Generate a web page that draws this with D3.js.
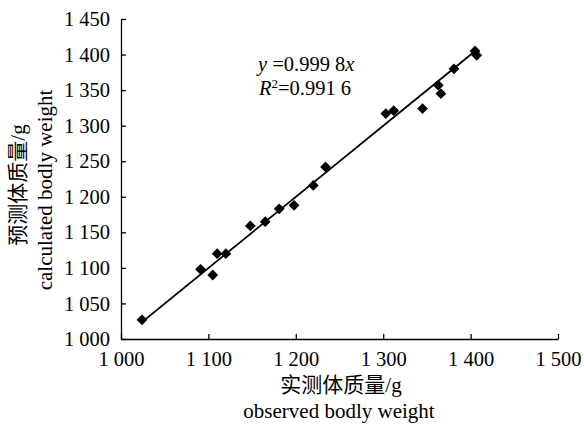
<!DOCTYPE html>
<html>
<head>
<meta charset="utf-8">
<script src="https://cdn.jsdelivr.net/npm/d3@7"></script>
<style>
  body { margin: 0; background: #fff; }
  text { font-family: "Liberation Serif", "Times New Roman", serif; fill: #000; }
  .cn { font-family: "Noto Sans CJK SC", sans-serif; }
</style>
</head>
<body>
<svg id="chart" width="584" height="425"></svg>
<script>
// observed vs predicted body weight (g)
const observed  = [1024, 1091, 1105, 1110, 1120, 1148, 1165, 1181, 1198, 1220, 1234, 1303, 1312, 1345, 1363, 1366, 1381, 1405, 1407];
const predicted = [1027, 1098, 1090, 1120, 1120, 1159, 1165, 1183, 1188, 1216, 1242, 1317, 1321, 1324, 1357, 1345, 1380, 1405, 1399];
const xTicks = [1000, 1100, 1200, 1300, 1400, 1500];
const yTicks = [1000, 1050, 1100, 1150, 1200, 1250, 1300, 1350, 1400, 1450];
const slope = 0.9998;

const svg = d3.select("#chart");
let margin = { top: 19, left: 121, right: 26, bottom: 86 };
let width = 584, height = 425;
let bodyWidth = width - margin.left - margin.right;
let bodyHeight = height - margin.top - margin.bottom;

let xScale = d3.scaleLinear().domain([1000, 1500]).range([0, bodyWidth]);
let yScale = d3.scaleLinear().domain([1000, 1450]).range([bodyHeight, 0]);

let fmt = d => d3.format(",")(d).replace(",", " ");

let body = svg.append("g")
    .attr("transform", `translate(${margin.left},${margin.top})`);

// axes, ticks point inward
let axisX = d3.axisBottom(xScale).tickValues(xTicks).tickFormat(fmt)
    .tickSizeInner(-5).tickSizeOuter(0).tickPadding(12);
let gx = body.append("g")
    .attr("transform", `translate(0,${bodyHeight})`)
    .call(axisX);

let axisY = d3.axisLeft(yScale).tickValues(yTicks).tickFormat(fmt)
    .tickSizeInner(-5).tickSizeOuter(0).tickPadding(11);
let gy = body.append("g").call(axisY);

[gx, gy].forEach(g => {
    g.selectAll("path, line").attr("stroke", "#000").attr("stroke-width", 1.3);
    g.selectAll("text").style("font-family", "'Liberation Serif', serif")
        .style("font-size", "20.5px").attr("fill", "#000");
});
gx.selectAll("text").attr("dy", "0.71em");

// fitted line y = 0.9998x
let xr = d3.extent(observed);
body.append("line")
    .attr("x1", xScale(xr[0])).attr("y1", yScale(xr[0] * slope))
    .attr("x2", xScale(xr[1])).attr("y2", yScale(xr[1] * slope))
    .attr("stroke", "#000").attr("stroke-width", 1.8);

// diamond markers
let diamond = d3.symbol().type(d3.symbolSquare).size(58);
body.selectAll("path.pt")
    .data(observed.map((d, i) => ({ x: d, y: predicted[i] })))
    .enter().append("path")
    .attr("class", "pt")
    .attr("d", diamond)
    .attr("transform", d => `translate(${xScale(d.x)},${yScale(d.y)}) rotate(45)`)
    .attr("fill", "#000");

// equation
let eq = body.append("text").attr("x", 137).attr("y", 52).style("font-size", "20.5px");
eq.append("tspan").style("font-style", "italic").text("y");
eq.append("tspan").text(" =0.999 8");
eq.append("tspan").style("font-style", "italic").text("x");

let r2 = body.append("text").attr("x", 138).attr("y", 76).style("font-size", "20.5px");
r2.append("tspan").style("font-style", "italic").text("R");
r2.append("tspan").attr("dy", -7).style("font-size", "13px").text("2");
r2.append("tspan").attr("dy", 7).text("=0.991 6");

// axis titles
svg.append("text").attr("x", 341).attr("y", 392)
    .attr("text-anchor", "middle").style("font-size", "21px")
    .html('<tspan class="cn">实测体质量</tspan>/g');
svg.append("text").attr("x", 339).attr("y", 418)
    .attr("text-anchor", "middle").style("font-size", "21px")
    .text("observed bodly weight");

let cy = 185;
svg.append("text").attr("transform", `translate(25,${cy}) rotate(-90)`)
    .attr("text-anchor", "middle").style("font-size", "21px")
    .html('<tspan class="cn">预测体质量</tspan>/g');
svg.append("text").attr("transform", `translate(52,${cy + 5}) rotate(-90)`)
    .attr("text-anchor", "middle").style("font-size", "21px")
    .text("calculated bodly weight");
</script>
</body>
</html>
